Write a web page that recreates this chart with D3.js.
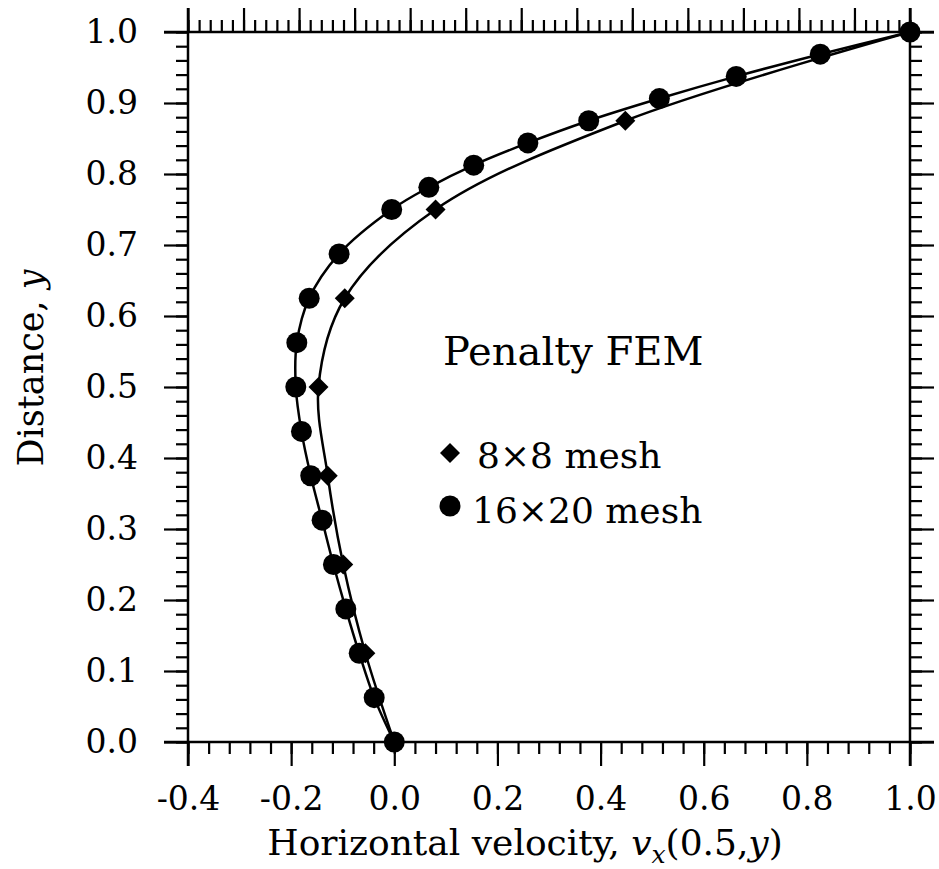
<!DOCTYPE html>
<html>
<head>
<meta charset="utf-8">
<script src="https://cdn.jsdelivr.net/npm/d3@7"></script>
<style>
  body { margin: 0; background: #fff; }
  text { font-family: "DejaVu Serif", serif; fill: #000; }
</style>
</head>
<body>
<div id="chart"></div>
<script>
// 16x20 mesh (circles)
var yFine = [0, 0.0625, 0.125, 0.1875, 0.25, 0.3125, 0.375, 0.4375, 0.5, 0.5625, 0.625, 0.6875, 0.75,
             0.78125, 0.8125, 0.84375, 0.875, 0.90625, 0.9375, 0.96875, 1.0];
var vxFine = [0, -0.039, -0.068, -0.094, -0.118, -0.140, -0.162, -0.180, -0.191, -0.189, -0.165, -0.107, -0.005,
              0.067, 0.154, 0.259, 0.377, 0.514, 0.663, 0.826, 1.0];

// 8x8 mesh (diamonds)
var yCoarse = [0, 0.125, 0.25, 0.375, 0.5, 0.625, 0.75, 0.875, 1.0];
var vxCoarse = [0, -0.056, -0.099, -0.129, -0.147, -0.096, 0.080, 0.448, 1.0];

var xTicks = [-0.4, -0.2, 0.0, 0.2, 0.4, 0.6, 0.8, 1.0];
var yTicks = [0.0, 0.1, 0.2, 0.3, 0.4, 0.5, 0.6, 0.7, 0.8, 0.9, 1.0];
var legendNames = ["8\u00d78 mesh", "16\u00d720 mesh"];

var width = 939, height = 869;
var pLeft = 188, pRight = 910, pTop = 32, pBottom = 742;

var svg = d3.select("#chart").append("svg")
    .attr("width", width)
    .attr("height", height);

var x = d3.scaleLinear().domain([-0.4, 1.0]).range([pLeft, pRight]);
var y = d3.scaleLinear().domain([0, 1]).range([pBottom, pTop]);
// top axis has its own 13 division scale
var xTop = d3.scaleLinear().domain([0, 13]).range([pLeft, pRight]);

var xMinor = d3.range(-0.4, 1.0001, 0.04).map(function(d) { return +d.toFixed(2); });
var yMinor = d3.range(0, 1.0001, 0.02).map(function(d) { return +d.toFixed(2); });
var topMinor = d3.range(0, 13.0001, 0.2).map(function(d) { return +d.toFixed(1); });

function styleAxis(g) {
  g.select(".domain").remove();
  g.attr("font-family", null);
  g.selectAll(".tick line").attr("stroke", "#000").attr("stroke-width", 2.2);
  g.selectAll(".tick text").style("font-size", "33px").attr("fill", "#000");
}

// bottom
svg.append("g").attr("transform", "translate(0," + pBottom + ")")
  .call(d3.axisBottom(x).tickValues(xMinor).tickSize(12).tickFormat(""))
  .call(styleAxis);
svg.append("g").attr("transform", "translate(0," + pBottom + ")")
  .call(d3.axisBottom(x).tickValues(xTicks).tickSize(24).tickPadding(21)
        .tickFormat(function(d) { return d3.format(".1f")(d).replace("\u2212", "-"); }))
  .call(styleAxis);

// left
svg.append("g").attr("transform", "translate(" + pLeft + ",0)")
  .call(d3.axisLeft(y).tickValues(yMinor).tickSize(12).tickFormat(""))
  .call(styleAxis);
svg.append("g").attr("transform", "translate(" + pLeft + ",0)")
  .call(d3.axisLeft(y).tickValues(yTicks).tickSize(24).tickPadding(26).tickFormat(d3.format(".1f")))
  .call(styleAxis);

// right
svg.append("g").attr("transform", "translate(" + pRight + ",0)")
  .call(d3.axisRight(y).tickValues(yMinor).tickSize(12).tickFormat(""))
  .call(styleAxis);
svg.append("g").attr("transform", "translate(" + pRight + ",0)")
  .call(d3.axisRight(y).tickValues(yTicks).tickSize(24).tickFormat(""))
  .call(styleAxis);

// top
svg.append("g").attr("transform", "translate(0," + pTop + ")")
  .call(d3.axisTop(xTop).tickValues(topMinor).tickSize(12).tickFormat(""))
  .call(styleAxis);
svg.append("g").attr("transform", "translate(0," + pTop + ")")
  .call(d3.axisTop(xTop).ticks(13).tickSize(24).tickFormat(""))
  .call(styleAxis);

// frame, lines run past the corners
var ext = 24;
var frame = svg.append("g").attr("stroke", "#000").attr("stroke-width", 2.5);
frame.append("line").attr("x1", pLeft - ext).attr("x2", pRight + ext).attr("y1", pTop).attr("y2", pTop);
frame.append("line").attr("x1", pLeft - ext).attr("x2", pRight + ext).attr("y1", pBottom).attr("y2", pBottom);
frame.append("line").attr("x1", pLeft).attr("x2", pLeft).attr("y1", pTop - ext).attr("y2", pBottom + ext);
frame.append("line").attr("x1", pRight).attr("x2", pRight).attr("y1", pTop - ext).attr("y2", pBottom + ext);

// curves
var line = d3.line()
  .x(function(d) { return x(d[0]); })
  .y(function(d) { return y(d[1]); })
  .curve(d3.curveCatmullRom.alpha(0.5));

var fine = vxFine.map(function(v, i) { return [v, yFine[i]]; });
var coarse = vxCoarse.map(function(v, i) { return [v, yCoarse[i]]; });

svg.append("path").datum(coarse).attr("d", line)
  .attr("fill", "none").attr("stroke", "#000").attr("stroke-width", 2.5);
svg.append("path").datum(fine).attr("d", line)
  .attr("fill", "none").attr("stroke", "#000").attr("stroke-width", 2.5);

var diamond = d3.symbol().type(d3.symbolSquare).size(200);

svg.selectAll(".dia").data(coarse).enter().append("path")
  .attr("class", "dia")
  .attr("d", diamond)
  .attr("transform", function(d) { return "translate(" + x(d[0]) + "," + y(d[1]) + ") rotate(45)"; })
  .attr("fill", "#000");

svg.selectAll(".dot").data(fine).enter().append("circle")
  .attr("class", "dot")
  .attr("cx", function(d) { return x(d[0]); })
  .attr("cy", function(d) { return y(d[1]); })
  .attr("r", 10.5)
  .attr("fill", "#000");

// legend
svg.append("text").attr("x", 443).attr("y", 365).style("font-size", "40px").text("Penalty FEM");
svg.append("path").attr("d", diamond)
  .attr("transform", "translate(450,453) rotate(45)").attr("fill", "#000");
svg.append("text").attr("x", 477).attr("y", 468).style("font-size", "36px").text(legendNames[0]);
svg.append("circle").attr("cx", 450).attr("cy", 506).attr("r", 10.5).attr("fill", "#000");
svg.append("text").attr("x", 472).attr("y", 523).style("font-size", "36px").text(legendNames[1]);

// axis titles
var xt = svg.append("text").attr("x", 525).attr("y", 855)
  .attr("text-anchor", "middle").style("font-size", "36px");
xt.append("tspan").text("Horizontal velocity, ");
xt.append("tspan").style("font-style", "italic").text("v");
xt.append("tspan").style("font-style", "italic").style("font-size", "25px").attr("dy", 8).text("x");
xt.append("tspan").attr("dy", -8).text("(0.5,");
xt.append("tspan").style("font-style", "italic").text("y");
xt.append("tspan").text(")");

var yt = svg.append("text")
  .attr("transform", "translate(43,368) rotate(-90)")
  .attr("text-anchor", "middle").style("font-size", "35px");
yt.append("tspan").text("Distance, ");
yt.append("tspan").style("font-style", "italic").text("y");
</script>
</body>
</html>
